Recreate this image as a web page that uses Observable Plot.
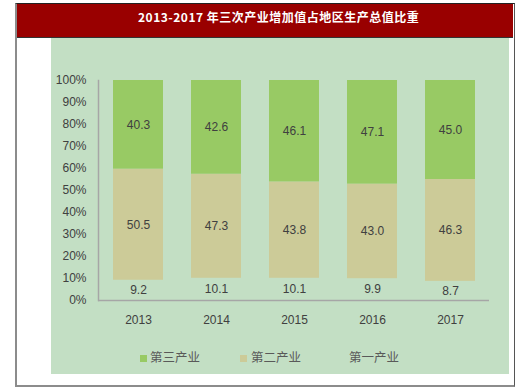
<!DOCTYPE html>
<html><head><meta charset="utf-8">
<script src="https://cdn.jsdelivr.net/npm/d3@7"></script>
<script src="https://cdn.jsdelivr.net/npm/@observablehq/plot@0.6"></script>
<style>
body{margin:0;width:520px;height:388px;background:#fff;position:relative;overflow:hidden;font-family:"Liberation Sans",Arial,sans-serif}
#frame{position:absolute;left:15px;top:3px;width:497px;height:381px;border-left:2px solid #8c8c8c;border-bottom:2px solid #8c8c8c;border-right:1px solid #555;border-top:1px solid #222}
#titlebar{position:absolute;left:17px;top:4px;width:496px;height:33px;background:#990000;border-bottom:1px solid #333}
#title{position:absolute;top:8px;left:138px;color:#fff;font:bold 12px "Noto Sans CJK SC";letter-spacing:0.5px;white-space:nowrap}
#panel{position:absolute;left:51px;top:38px;width:458px;height:336px;background:#C3DFC4}
#chart{position:absolute;left:0;top:0}
.leg{position:absolute;top:347px;font:12.5px "Noto Sans CJK SC";color:#595959;white-space:nowrap}
.sw{position:absolute;width:7px;height:7px}
</style></head>
<body>
<div id="frame"></div>
<div id="titlebar"></div>
<div id="title"></div>
<div id="panel"></div>
<div id="chart"></div>
<div id="legend"></div>
<script>
const titleText = "2013-2017 年三次产业增加值占地区生产总值比重";
const years = ["2013","2014","2015","2016","2017"];
const tertiary = [40.3,42.6,46.1,47.1,45.0];
const secondary = [50.5,47.3,43.8,43.0,46.3];
const primary = [9.2,10.1,10.1,9.9,8.7];
const industries = ["第一产业","第二产业","第三产业"];
const industryColors = ["transparent","#CCCB98","#98CA64"];
const yTicks = [0,10,20,30,40,50,60,70,80,90,100];
const legendOrder = ["第三产业","第二产业","第一产业"];

document.getElementById("title").textContent = titleText;

const series = [primary, secondary, tertiary];
const data = [];
years.forEach((y,i)=>{
  industries.forEach((ind,k)=>data.push({year:y, industry:ind, value:series[k][i]}));
});

const chart = Plot.plot({
  width:520, height:388,
  marginLeft:98, marginRight:31, marginTop:80, marginBottom:88,
  style:{background:"transparent", fontFamily:"Liberation Sans, Arial, sans-serif", fontSize:"12px", color:"#404040"},
  x:{domain:years, paddingInner:0.36, paddingOuter:0.18, label:null},
  y:{domain:[0,100], label:null},
  color:{domain:industries, range:industryColors},
  marks:[
    Plot.barY(data, {x:"year", y:"value", fill:"industry", order:industries}),
    Plot.text(data, Plot.stackY({x:"year", y:"value", z:"industry", order:industries, text:d=>d.value.toFixed(1), fill:"#404040", fontSize:12})),
    Plot.ruleY([0], {stroke:"#A6A6A6", strokeWidth:1.5}),
    Plot.frame({anchor:"left", stroke:"#A6A6A6", strokeWidth:1.5}),
    Plot.axisY({ticks:yTicks, tickSize:0, tickPadding:12, tickFormat:d=>d+"%"}),
    Plot.axisX({tickSize:0, tickPadding:15})
  ]
});
document.getElementById("chart").appendChild(chart);

const legPos = [{sx:140, tx:150},{sx:240, tx:251},{sx:null, tx:349}];
const legend = document.getElementById("legend");
legendOrder.forEach((name,i)=>{
  const c = industryColors[industries.indexOf(name)];
  const p = legPos[i];
  if (c !== "transparent") {
    const s = document.createElement("div");
    s.className = "sw"; s.style.left = p.sx+"px"; s.style.top = "355px"; s.style.background = c;
    legend.appendChild(s);
  }
  const t = document.createElement("div");
  t.className = "leg"; t.style.left = p.tx+"px"; t.textContent = name;
  legend.appendChild(t);
});
</script>
</body></html>
